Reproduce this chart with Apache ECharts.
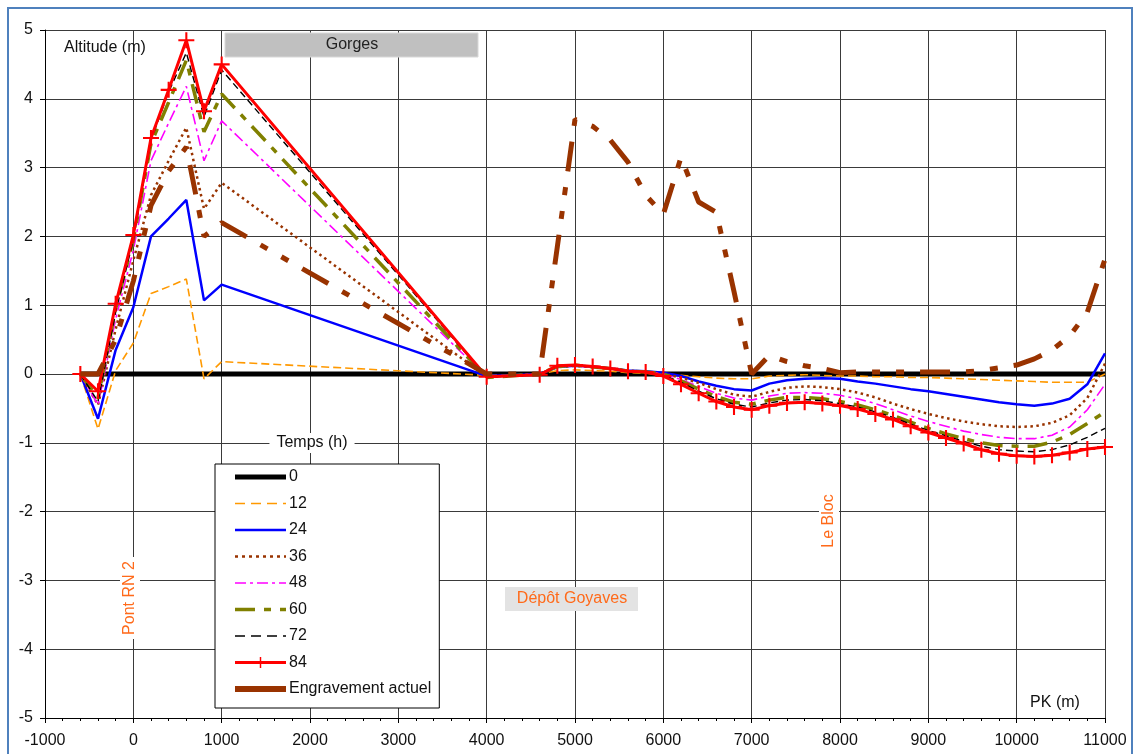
<!DOCTYPE html>
<html><head><meta charset="utf-8">
<script src="https://cdn.jsdelivr.net/npm/echarts@6/dist/echarts.min.js"></script>
<style>html,body{margin:0;padding:0;background:#fff}#c{width:1135px;height:754px}</style>
</head><body><div id="c"></div>
<script>
// PK (m) positions of the profile points
const pk = [-600,-400,-200,0,200,400,600,800,1000,4000,
  4600,4800,5000,5200,5400,5600,5800,6000,
  6200,6400,6600,6800,7000,7200,7400,7600,7800,8000,8200,8400,8600,8800,9000,9200,9400,9600,9800,10000,10200,10400,10600,10800,11000];

const xTicks = ['-1000','0','1000','2000','3000','4000','5000','6000','7000','8000','9000','10000','11000'];
const yTicks = ['-5','-4','-3','-2','-1','0','1','2','3','4','5'];

const names = ['0','12','24','36','48','60','72','84','Engravement actuel'];

const h0 = [0,0,0,0,0,0,0,0,0,0,
  0,0,0,0,0,0,0,0,
  0,0,0,0,0,0,0,0,0,0,0,0,0,0,0,0,0,0,0,0,0,0,0,0,0];
const h12 = [0,-0.8,0.05,0.45,1.17,1.27,1.38,-0.07,0.18,-0.02,
  0.0,0.05,0.06,0.05,0.04,0.02,0.01,0.0,
  -0.02,-0.04,-0.06,-0.07,-0.07,-0.03,-0.02,-0.01,-0.02,-0.03,-0.03,-0.04,-0.04,-0.05,-0.05,-0.06,-0.07,-0.08,-0.09,-0.1,-0.11,-0.12,-0.12,-0.12,0.0];
const h24 = [0,-0.65,0.35,0.97,2.0,2.26,2.53,1.07,1.3,-0.03,
  0.0,0.1,0.12,0.11,0.08,0.05,0.04,0.02,
  -0.03,-0.11,-0.17,-0.22,-0.24,-0.14,-0.09,-0.07,-0.06,-0.07,-0.11,-0.14,-0.18,-0.22,-0.25,-0.29,-0.33,-0.37,-0.41,-0.44,-0.46,-0.43,-0.36,-0.15,0.3];
const h36 = [0,-0.45,0.65,1.65,2.6,3.1,3.58,2.4,2.78,-0.04,
  0.0,0.1,0.12,0.1,0.08,0.05,0.03,0.0,
  -0.05,-0.13,-0.22,-0.3,-0.33,-0.26,-0.2,-0.18,-0.19,-0.22,-0.27,-0.34,-0.43,-0.51,-0.58,-0.64,-0.69,-0.73,-0.76,-0.77,-0.76,-0.71,-0.6,-0.35,0.15];
const h48 = [0,-0.45,0.8,1.8,3.1,3.65,4.18,3.1,3.68,-0.04,
  0.0,0.1,0.12,0.1,0.08,0.05,0.03,0.0,
  -0.08,-0.18,-0.28,-0.35,-0.38,-0.32,-0.28,-0.27,-0.28,-0.31,-0.36,-0.43,-0.52,-0.61,-0.69,-0.76,-0.83,-0.88,-0.92,-0.94,-0.94,-0.89,-0.77,-0.52,-0.15];
const h60 = [0,-0.35,0.95,1.95,3.35,3.95,4.56,3.52,4.07,-0.05,
  0.0,0.11,0.13,0.1,0.08,0.04,0.03,0.0,
  -0.1,-0.22,-0.33,-0.41,-0.44,-0.38,-0.34,-0.34,-0.36,-0.4,-0.45,-0.52,-0.6,-0.7,-0.79,-0.87,-0.94,-1.0,-1.04,-1.05,-1.05,-0.99,-0.88,-0.72,-0.55];
const h72 = [0,-0.4,0.9,1.95,3.4,4.1,4.67,3.74,4.42,-0.05,
  -0.01,0.11,0.13,0.1,0.08,0.04,0.03,-0.02,
  -0.12,-0.25,-0.36,-0.44,-0.48,-0.42,-0.38,-0.37,-0.39,-0.43,-0.48,-0.55,-0.63,-0.73,-0.82,-0.9,-0.98,-1.05,-1.1,-1.12,-1.13,-1.1,-1.03,-0.92,-0.79];
const h84 = [0,-0.25,1.02,2.02,3.43,4.13,4.85,3.82,4.5,-0.04,
  -0.01,0.12,0.13,0.11,0.08,0.04,0.03,-0.03,
  -0.15,-0.28,-0.4,-0.48,-0.52,-0.46,-0.42,-0.41,-0.43,-0.46,-0.51,-0.58,-0.66,-0.76,-0.85,-0.93,-1.01,-1.1,-1.16,-1.19,-1.2,-1.18,-1.14,-1.09,-1.06];
const engr = [0,0,0.5,1.35,2.45,2.95,3.3,2.0,2.2,0.0,
  0,1.85,3.7,3.6,3.4,3.08,2.6,2.32,
  3.15,2.5,2.35,1.2,0.0,0.27,0.18,0.12,0.08,0.02,0.03,0.03,0.03,0.03,0.03,0.03,0.03,0.05,0.09,0.13,0.22,0.35,0.55,0.9,1.67];

const FONT = 'Liberation Sans, Arial, sans-serif';
const pair = v => pk.map((x, i) => [x, v[i]]);
const plus = 'path://M-0.13,-1H0.13V-0.13H1V0.13H0.13V1H-0.13V0.13H-1V-0.13H-0.13Z';

const styles = [
  {color:'#000000', width:5, type:'solid'},
  {color:'#ff9900', width:1.6, type:[8,4]},
  {color:'#0000ff', width:2.5, type:'solid'},
  {color:'#993300', width:2.5, type:[2.5,3.5]},
  {color:'#ff00ff', width:1.6, type:[11,4,3,4]},
  {color:'#808000', width:3.5, type:[20,9,7,9]},
  {color:'#000000', width:1.4, type:[7,4]},
  {color:'#ff0000', width:3, type:'solid'},
  {color:'#993300', width:5, type:[30,16,8,16,8,16]}
];
const values = [h0,h12,h24,h36,h48,h60,h72,h84,engr];

const series = names.map((n, i) => ({
  name: n,
  type: 'line',
  data: pair(values[i]),
  symbol: i === 7 ? plus : 'none',
  symbolSize: 16,
  showSymbol: i === 7,
  itemStyle: {color: styles[i].color},
  lineStyle: {color: styles[i].color, width: styles[i].width, type: styles[i].type, cap: 'butt'},
  animation: false,
  emphasis: {disabled: true},
  z: 2 + i
}));

const legendData = names.map((n, i) => {
  const item = {
    name: n,
    lineStyle: {color: styles[i].color, width: styles[i].width, type: styles[i].type, cap: 'butt'}
  };
  if (i !== 7) item.itemStyle = {opacity: 0};
  if (i === 8) item.lineStyle = {color: styles[i].color, width: 6, type: 'solid', cap: 'butt'};
  if (i === 1 || i === 6) item.lineStyle.type = [10, 6];
  if (i === 3) item.lineStyle.type = [3, 4];
  return item;
});

const chart = echarts.init(document.getElementById('c'));
chart.setOption({
  backgroundColor: '#ffffff',
  animation: false,
  textStyle: {fontFamily: FONT},
  grid: {left: 45, right: 30, top: 30, bottom: 36},
  xAxis: {
    type: 'value', min: -1000, max: 11000, interval: 1000,
    axisLine: {show: true, onZero: false, lineStyle: {color: '#000', width: 1}},
    axisTick: {show: true, length: 5, lineStyle: {color: '#000'}},
    minorTick: {show: true, splitNumber: 5, length: 3, lineStyle: {color: '#000'}},
    splitLine: {show: true, lineStyle: {color: '#3a3a3a', width: 1}},
    axisLabel: {fontSize: 16, color: '#111', margin: 15, fontFamily: FONT,
      formatter: v => xTicks[Math.round((v + 1000) / 1000)] ?? String(v)}
  },
  yAxis: {
    type: 'value', min: -5, max: 5, interval: 1,
    axisLine: {show: true, onZero: false, lineStyle: {color: '#000', width: 1}},
    axisTick: {show: true, length: 5, lineStyle: {color: '#000'}},
    splitLine: {show: true, lineStyle: {color: '#3a3a3a', width: 1}},
    axisLabel: {fontSize: 16, color: '#111', margin: 12, fontFamily: FONT,
      formatter: v => yTicks[Math.round(v + 5)] ?? String(v)}
  },
  legend: {
    orient: 'vertical', left: 215, top: 464,
    padding: [5, 8, 11, 17],
    backgroundColor: '#ffffff', borderColor: '#000', borderWidth: 1,
    itemWidth: 51, itemHeight: 14, itemGap: 10.5,
    selectedMode: false,
    textStyle: {fontSize: 16, color: '#111', fontFamily: FONT, padding: [0,0,0,-2]},
    data: legendData
  },
  tooltip: {show: false},
  series: series,
  graphic: [
    {type: 'rect', z: 100, silent: true, shape: {x: 8, y: 8, width: 1124, height: 800},
      style: {fill: 'none', stroke: '#4f81bd', lineWidth: 2}},
    {type: 'text', z: 50, left: 64, top: 40,
      style: {text: 'Altitude (m)', font: '16px ' + FONT, fill: '#111'}},
    {type: 'rect', z: 50, shape: {x: 225, y: 33, width: 253, height: 24},
      style: {fill: '#c0c0c0', stroke: '#d8d8d8', lineWidth: 1}},
    {type: 'text', z: 51, x: 352, y: 45,
      style: {text: 'Gorges', font: '16px ' + FONT, fill: '#222', align: 'center', verticalAlign: 'middle'}},
    {type: 'text', z: 50, x: 312, y: 443,
      style: {text: 'Temps (h)', font: '16px ' + FONT, fill: '#111', align: 'center', verticalAlign: 'middle',
        backgroundColor: '#fff', padding: [2, 7]}},
    {type: 'text', z: 50, x: 1055, y: 703,
      style: {text: 'PK (m)', font: '16px ' + FONT, fill: '#111', align: 'center', verticalAlign: 'middle'}},
    {type: 'text', z: 50, x: 130, y: 598, rotation: Math.PI / 2,
      style: {text: 'Pont RN 2', font: '16px ' + FONT, fill: '#ff6a1a', align: 'center', verticalAlign: 'middle',
        backgroundColor: '#fff', padding: [2, 4]}},
    {type: 'text', z: 50, x: 829, y: 521, rotation: Math.PI / 2,
      style: {text: 'Le Bloc', font: '16px ' + FONT, fill: '#ff6a1a', align: 'center', verticalAlign: 'middle',
        backgroundColor: '#fff', padding: [2, 4]}},
    {type: 'rect', z: 50, shape: {x: 505, y: 587, width: 133, height: 24},
      style: {fill: '#e3e3e3', stroke: 'none'}},
    {type: 'text', z: 51, x: 572, y: 599,
      style: {text: 'Dépôt Goyaves', font: '16px ' + FONT, fill: '#ff6a1a', align: 'center', verticalAlign: 'middle'}}
  ]
});
</script>
</body></html>
